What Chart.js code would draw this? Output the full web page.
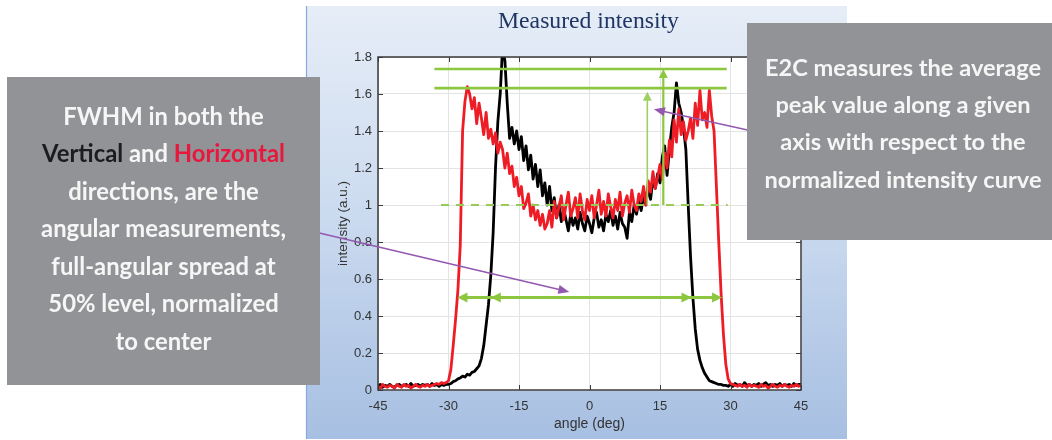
<!DOCTYPE html>
<html><head><meta charset="utf-8">
<script src="https://cdn.jsdelivr.net/npm/chart.js@4.4.1/dist/chart.umd.min.js"></script>
<style>html,body{margin:0;padding:0;background:#fff;}canvas{display:block;}</style>
</head><body>
<canvas id="c" width="1052" height="440"></canvas>
<script>
// ---------- data ----------
const angles = [
-45,-44.5,-44,-43.5,-43,-42.5,-42,-41.5,-41,-40.5,
-40,-39.5,-39,-38.5,-38,-37.5,-37,-36.5,-36,-35.5,
-35,-34.5,-34,-33.5,-33,-32.5,-32,-31.5,-31,-30.5,
-30,-29.5,-29,-28.5,-28,-27.5,-27,-26.5,-26,-25.5,
-25,-24.5,-24,-23.5,-23,-22.5,-22,-21.5,-21,-20.5,
-20,-19.5,-19,-18.5,-18,-17.5,-17,-16.5,-16,-15.5,
-15,-14.5,-14,-13.5,-13,-12.5,-12,-11.5,-11,-10.5,
-10,-9.5,-9,-8.5,-8,-7.5,-7,-6.5,-6,-5.5,
-5,-4.5,-4,-3.5,-3,-2.5,-2,-1.5,-1,-0.5,
0,0.5,1,1.5,2,2.5,3,3.5,4,4.5,
5,5.5,6,6.5,7,7.5,8,8.5,9,9.5,
10,10.5,11,11.5,12,12.5,13,13.5,14,14.5,
15,15.5,16,16.5,17,17.5,18,18.5,19,19.5,
20,20.5,21,21.5,22,22.5,23,23.5,24,24.5,
25,25.5,26,26.5,27,27.5,28,28.5,29,29.5,
30,30.5,31,31.5,32,32.5,33,33.5,34,34.5,
35,35.5,36,36.5,37,37.5,38,38.5,39,39.5,
40,40.5,41,41.5,42,42.5,43,43.5,44,44.5,
45];

// Horizontal direction (red)
const horizontal = [
0.02,0.01,0.03,0.02,0.015,0.025,0.02,0.01,0.03,0.02,
0.015,0.03,0.02,0.025,0.01,0.02,0.03,0.02,0.015,0.025,
0.02,0.03,0.02,0.025,0.03,0.035,0.03,0.04,0.035,0.04,
0.05,0.11,0.24,0.38,0.54,0.78,1.4,1.56,1.64,1.6,
1.52,1.58,1.44,1.55,1.47,1.38,1.5,1.36,1.41,1.33,
1.39,1.28,1.34,1.3,1.2,1.28,1.17,1.21,1.1,1.15,
1.05,1.1,0.98,1.01,1.06,0.94,1.0,0.92,0.97,0.89,
0.95,0.87,0.9,0.97,0.88,1.02,0.93,0.99,1.05,0.92,
1.0,1.07,0.94,0.98,1.04,0.93,1.06,0.97,0.92,1.03,
0.97,1.05,0.93,1.0,1.08,0.95,1.02,0.94,1.06,0.99,
0.93,1.03,0.97,1.07,0.94,1.01,1.05,0.96,1.08,1.0,
0.97,1.06,1.02,1.1,1.0,1.13,1.07,1.18,1.09,1.15,
1.22,1.14,1.28,1.2,1.35,1.26,1.46,1.34,1.52,1.38,
1.45,1.35,1.4,1.47,1.36,1.55,1.43,1.62,1.46,1.5,
1.42,1.62,1.48,1.4,1.1,0.8,0.52,0.3,0.14,0.06,
0.035,0.03,0.025,0.02,0.03,0.02,0.025,0.015,0.03,0.02,
0.025,0.02,0.015,0.03,0.02,0.025,0.01,0.02,0.03,0.02,
0.015,0.025,0.02,0.03,0.02,0.015,0.025,0.02,0.03,0.02,
0.025];

// Vertical direction (black)
const vertical = [
0.02,0.03,0.015,0.025,0.02,0.03,0.02,0.015,0.025,0.03,
0.02,0.025,0.03,0.02,0.035,0.02,0.025,0.03,0.02,0.03,
0.025,0.03,0.02,0.035,0.025,0.03,0.02,0.03,0.025,0.03,
0.03,0.035,0.045,0.05,0.06,0.065,0.075,0.07,0.085,0.08,
0.095,0.1,0.115,0.13,0.17,0.24,0.35,0.46,0.62,0.85,
1.2,1.45,1.6,1.85,1.78,1.55,1.36,1.42,1.33,1.4,
1.3,1.37,1.24,1.32,1.19,1.27,1.14,1.22,1.1,1.19,
1.05,1.12,1.0,1.1,0.97,1.04,0.93,1.0,0.91,0.98,
0.92,0.86,0.95,0.89,0.93,0.87,0.96,0.9,0.86,0.94,
0.9,0.85,0.93,0.96,0.88,0.92,0.86,0.95,0.91,0.97,
0.89,0.94,0.87,0.96,0.9,0.88,0.82,0.96,0.91,1.0,
0.95,1.02,0.97,1.05,1.0,1.1,1.03,1.14,1.09,1.17,
1.12,1.26,1.32,1.16,1.3,1.42,1.5,1.66,1.55,1.5,
1.42,1.3,1.0,0.72,0.5,0.33,0.22,0.16,0.12,0.09,
0.07,0.05,0.045,0.04,0.035,0.03,0.03,0.025,0.025,0.02,
0.03,0.02,0.035,0.025,0.03,0.02,0.04,0.025,0.03,0.02,
0.03,0.025,0.035,0.02,0.03,0.04,0.025,0.03,0.02,0.03,
0.025,0.035,0.02,0.03,0.025,0.03,0.02,0.035,0.025,0.03,
0.03];

const xRange = [-45, 45];
const yRange = [0, 1.8];
const xStep = 15;
const yStep = 0.2;

// annotation values (in data units)
const peakLevels = [1.735, 1.632];
const peakLineSpan = [-33, 29.2];
const unityLevel = 1.0;
const unitySpan = [-31.6, 29.4];
const peakArrows = [{x: 15.7, top: 1.735}, {x: 12.3, top: 1.612}];
const halfLevel = 0.5;
const fwhmHorizontal = [-28.1, 28.2];
const fwhmVertical = [-21.0, 21.7];
const pointerTips = [{x: -4.3, y: 0.53}, {x: 13.7, y: 1.518}];

const titleText = 'Measured intensity';
const xTitle = 'angle (deg)';
const yTitle = 'intensity (a.u.)';
const leftNote = [
  [['FWHM in both the', 'w']],
  [['Vertical', 'k'], [' and ', 'w'], ['Horizontal', 'r']],
  [['directions, are the', 'w']],
  [['angular measurements,', 'w']],
  [['full-angular spread at', 'w']],
  [['50% level, normalized', 'w']],
  [['to center', 'w']]
];
const rightNote = [
  'E2C measures the average',
  'peak value along a given',
  'axis with respect to the',
  'normalized intensity curve'
];

// ---------- drawing helpers ----------
const GREEN = '#8dc63f';
const PURPLE = '#9358b0';
const BOXGRAY = '#929396';
const NOTE_COLORS = {w: '#f6f6f6', k: '#1c1c1e', r: '#e8173d'};

function head(ctx, tx, ty, dx, dy, len, hw, color) {
  const L = Math.hypot(dx, dy); dx /= L; dy /= L;
  const bx = tx - dx * len, by = ty - dy * len;
  ctx.beginPath();
  ctx.moveTo(tx, ty);
  ctx.lineTo(bx - dy * hw, by + dx * hw);
  ctx.lineTo(bx + dy * hw, by - dx * hw);
  ctx.closePath();
  ctx.fillStyle = color; ctx.fill();
}
function line(ctx, x1, y1, x2, y2, color, w, dash) {
  ctx.save();
  ctx.beginPath(); ctx.moveTo(x1, y1); ctx.lineTo(x2, y2);
  ctx.strokeStyle = color; ctx.lineWidth = w;
  if (dash) ctx.setLineDash(dash);
  ctx.stroke(); ctx.restore();
}
function fitSize(ctx, family, weight, text, target) {
  ctx.font = weight + ' 20px ' + family;
  return 20 * target / ctx.measureText(text).width;
}

const decor = {
  id: 'decor',
  beforeDraw(chart) {
    const ctx = chart.ctx, a = chart.chartArea;
    ctx.save();
    ctx.fillStyle = '#ffffff'; ctx.fillRect(0, 0, chart.width, chart.height);
    const g = ctx.createLinearGradient(0, 6, 0, 439);
    g.addColorStop(0, '#e6edf7');
    g.addColorStop(0.45, '#cddcf0');
    g.addColorStop(1, '#a7bfe2');
    ctx.fillStyle = g; ctx.fillRect(306, 6, 541, 433);
    line(ctx, 306.5, 6, 306.5, 439, '#86a8dc', 1.2);
    ctx.fillStyle = '#ffffff'; ctx.fillRect(a.left, a.top, a.right - a.left, a.bottom - a.top);
    // title
    const fam = "'Liberation Serif', 'DejaVu Serif', serif";
    const s = fitSize(ctx, fam, 'normal', titleText, 181);
    ctx.font = 'normal ' + s.toFixed(2) + 'px ' + fam;
    ctx.fillStyle = '#1f3563'; ctx.textAlign = 'center'; ctx.textBaseline = 'middle';
    ctx.fillText(titleText, 588.5, 22);
    ctx.restore();
  },
  afterDatasetsDraw(chart) {
    const ctx = chart.ctx, a = chart.chartArea;
    const xs = chart.scales.x, ys = chart.scales.y;
    ctx.save();
    // frame and inward ticks
    ctx.strokeStyle = '#3a3a3a'; ctx.lineWidth = 1.5;
    ctx.strokeRect(a.left, a.top, a.right - a.left, a.bottom - a.top);
    ctx.lineWidth = 1;
    xs.ticks.forEach(t => {
      const px = Math.round(xs.getPixelForValue(t.value)) + 0.5;
      line(ctx, px, a.bottom, px, a.bottom - 5, '#3a3a3a', 1);
      line(ctx, px, a.top, px, a.top + 5, '#3a3a3a', 1);
    });
    ys.ticks.forEach(t => {
      const py = Math.round(ys.getPixelForValue(t.value)) + 0.5;
      line(ctx, a.left, py, a.left + 5, py, '#3a3a3a', 1);
      line(ctx, a.right, py, a.right - 5, py, '#3a3a3a', 1);
    });
    // green annotations
    peakLevels.forEach(v => {
      const py = ys.getPixelForValue(v);
      line(ctx, xs.getPixelForValue(peakLineSpan[0]), py, xs.getPixelForValue(peakLineSpan[1]), py, GREEN, 2.6);
    });
    const uy = ys.getPixelForValue(unityLevel);
    line(ctx, xs.getPixelForValue(unitySpan[0]), uy, xs.getPixelForValue(unitySpan[1]), uy, '#97cb55', 2.2, [8, 7]);
    peakArrows.forEach((p, i) => {
      const px = xs.getPixelForValue(p.x), ty = ys.getPixelForValue(p.top);
      const w = i === 0 ? 2.2 : 1.6;
      line(ctx, px, uy, px, ty + 7, i === 0 ? GREEN : '#9fd162', w);
      head(ctx, px, ty, 0, -1, 9, 4.5, i === 0 ? GREEN : '#9fd162');
    });
    const hy = ys.getPixelForValue(halfLevel);
    const l0 = xs.getPixelForValue(fwhmHorizontal[0]), r0 = xs.getPixelForValue(fwhmHorizontal[1]);
    line(ctx, l0 + 6, hy, r0 - 6, hy, GREEN, 3);
    head(ctx, l0, hy, -1, 0, 10, 5, GREEN);
    head(ctx, r0, hy, 1, 0, 10, 5, GREEN);
    head(ctx, xs.getPixelForValue(fwhmVertical[0]), hy, -1, 0, 10, 5, GREEN);
    head(ctx, xs.getPixelForValue(fwhmVertical[1]), hy, 1, 0, 10, 5, GREEN);
    // purple pointers
    const t1x = xs.getPixelForValue(pointerTips[0].x), t1y = ys.getPixelForValue(pointerTips[0].y);
    const s1x = 315, s1y = 232;
    line(ctx, s1x, s1y, t1x - (t1x - s1x) * 0.04, t1y - (t1y - s1y) * 0.04, PURPLE, 1.5);
    head(ctx, t1x, t1y, t1x - s1x, t1y - s1y, 11, 4.5, PURPLE);
    const t2x = xs.getPixelForValue(pointerTips[1].x), t2y = ys.getPixelForValue(pointerTips[1].y);
    const s2x = 752, s2y = 131;
    line(ctx, s2x, s2y, t2x + (s2x - t2x) * 0.08, t2y + (s2y - t2y) * 0.08, PURPLE, 1.5);
    head(ctx, t2x, t2y, t2x - s2x, t2y - s2y, 11, 4.5, PURPLE);
    ctx.restore();
  },
  afterDraw(chart) {
    const ctx = chart.ctx;
    ctx.save();
    ctx.fillStyle = BOXGRAY;
    ctx.fillRect(7, 77, 313, 308);
    ctx.fillRect(747, 23, 305, 217);
    const fam = "Lato, 'Open Sans', sans-serif";
    ctx.textBaseline = 'middle'; ctx.textAlign = 'left';
    // left note
    let s = fitSize(ctx, fam, 'bold', 'angular measurements,', 245);
    ctx.font = 'bold ' + s.toFixed(2) + 'px ' + fam;
    leftNote.forEach((segs, i) => {
      const y = 117 + i * 37.5;
      const total = segs.reduce((acc, sg) => acc + ctx.measureText(sg[0]).width, 0);
      let x = 163.5 - total / 2;
      segs.forEach(sg => {
        ctx.fillStyle = NOTE_COLORS[sg[1]];
        ctx.fillText(sg[0], x, y);
        x += ctx.measureText(sg[0]).width;
      });
    });
    // right note
    s = fitSize(ctx, fam, 'bold', 'normalized intensity curve', 277);
    ctx.font = 'bold ' + s.toFixed(2) + 'px ' + fam;
    ctx.textAlign = 'center'; ctx.fillStyle = NOTE_COLORS.w;
    rightNote.forEach((t, i) => ctx.fillText(t, 903, 68 + i * 37.3));
    ctx.restore();
  }
};

const sans = "'Liberation Sans', Arial, sans-serif";
new Chart(document.getElementById('c').getContext('2d'), {
  type: 'line',
  data: {
    datasets: [
      {label: 'Horizontal', data: angles.map((a, i) => ({x: a, y: horizontal[i]})),
       borderColor: '#ee1c25', borderWidth: 2.8, pointRadius: 0, tension: 0, fill: false, borderJoinStyle: 'round'},
      {label: 'Vertical', data: angles.map((a, i) => ({x: a, y: vertical[i]})),
       borderColor: '#000000', borderWidth: 2.8, pointRadius: 0, tension: 0, fill: false, borderJoinStyle: 'round'}
    ]
  },
  options: {
    responsive: false, animation: false, devicePixelRatio: 1,
    layout: {padding: {left: 331, right: 251, top: 57, bottom: 0}},
    plugins: {legend: {display: false}, tooltip: {enabled: false}, title: {display: false}},
    scales: {
      x: {
        type: 'linear', min: xRange[0], max: xRange[1],
        ticks: {stepSize: xStep, autoSkip: false, maxRotation: 0, color: '#333333',
                font: {family: sans, size: 13}, padding: 9},
        grid: {color: '#e3e3e3', drawTicks: false},
        border: {display: false},
        title: {display: true, text: xTitle, color: '#333333', font: {family: sans, size: 14},
                padding: {top: 0, bottom: 7}},
        afterFit(s) { s.height = 50; }
      },
      y: {
        min: yRange[0], max: yRange[1],
        ticks: {stepSize: yStep, autoSkip: false, color: '#333333', font: {family: sans, size: 13}, padding: 6,
                callback: v => String(Math.round(v * 10) / 10)},
        grid: {color: '#e3e3e3', drawTicks: false},
        border: {display: false},
        title: {display: true, text: yTitle, color: '#333333', font: {family: sans, size: 13.5},
                padding: {top: 4, bottom: 0}},
        afterFit(s) { s.width = 47; }
      }
    }
  },
  plugins: [decor]
});
</script>
</body></html>
